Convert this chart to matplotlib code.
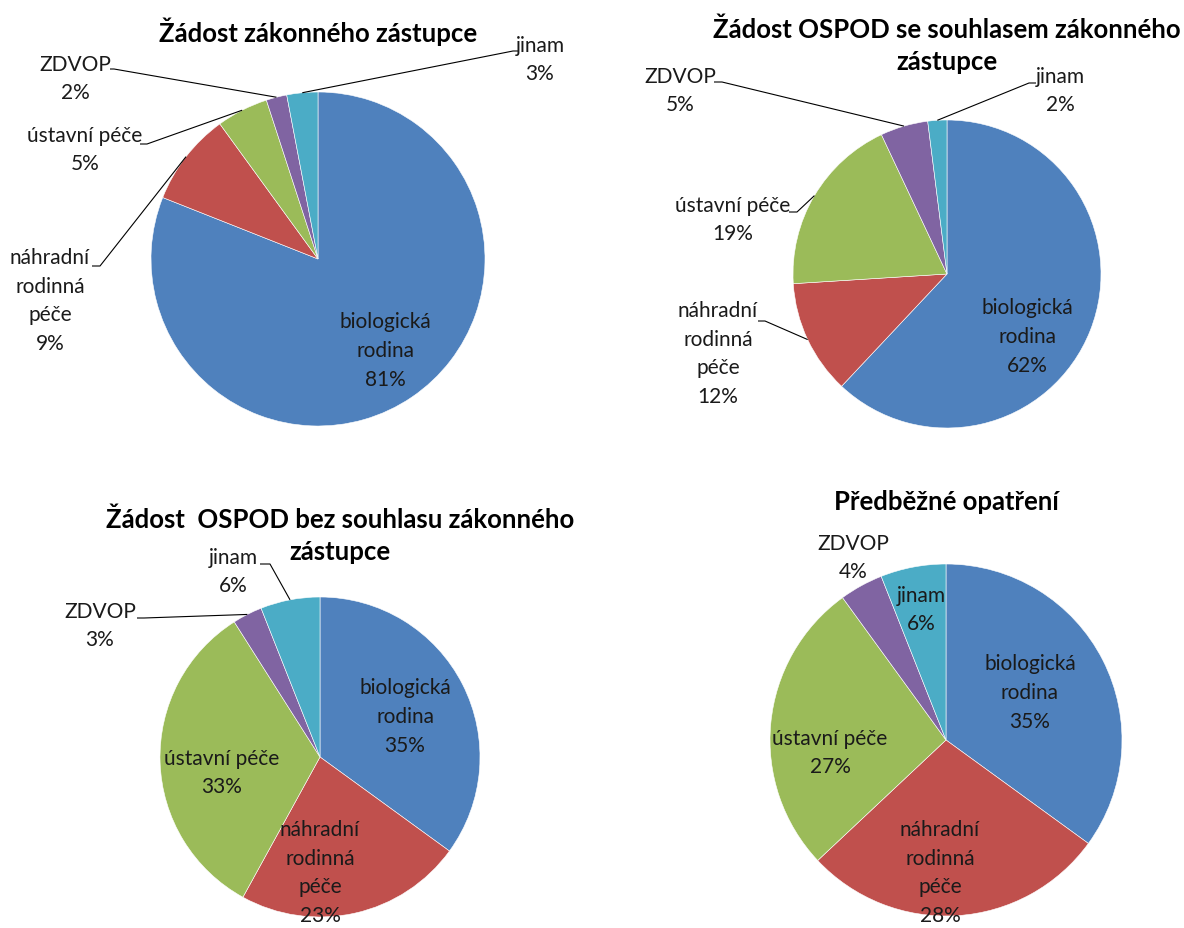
import numpy as np
import matplotlib
matplotlib.use("Agg")
import matplotlib.pyplot as plt

W, H = 1184, 929

# categories (same order in every pie, clockwise from 12 o'clock)
categories = ["biologická\nrodina", "náhradní\nrodinná\npéče", "ústavní péče",
              "ZDVOP", "jinam"]
colors = ["#4F81BD", "#C0504D", "#9BBB59", "#8064A2", "#4BACC6"]

titles = ["Žádost zákonného zástupce",
          "Žádost OSPOD se souhlasem zákonného\nzástupce",
          "Žádost  OSPOD bez souhlasu zákonného\nzástupce",
          "Předběžné opatření"]

shares_zz = [81, 9, 5, 2, 3]
shares_se = [62, 12, 19, 5, 2]
shares_bez = [35, 23, 33, 3, 6]
shares_po = [35, 28, 27, 4, 6]

# ---- layout (reference pixel coords, y measured from top) ----
# centre, radius, y of first title line
pies = [
    dict(c=(318, 260), r=167, title=(318, 32)),
    dict(c=(947, 275), r=154, title=(947, 30)),
    dict(c=(320, 758), r=160, title=(340, 520)),
    dict(c=(946, 741), r=176, title=(946, 502)),
]
# label centre per category; optional leader (anchor, elbow)
label_pos = [
    [(385, 351, None), (50, 301, [(92, 267), (100, 267)]),
     (85, 150, [(140, 145), (147, 145)]), (75, 79, [(110, 70), (114, 70)]),
     (540, 60, [(519, 52), (513, 52)])],
    [(1027, 337, None), (718, 354, [(758, 322), (765, 322)]),
     (733, 220, [(789, 213), (797, 213)]), (680, 91, [(714, 83), (722, 83)]),
     (1060, 91, [(1036, 84), (1029, 84)])],
    [(405, 717, None), (320, 873, None), (222, 773, None),
     (100, 626, [(137, 619), (144, 619)]), (233, 572, [(260, 565), (270, 565)])],
    [(1030, 693, None), (940, 873, None), (830, 753, None),
     (853, 558, None), (921, 610, None)],
]

plt.rcParams["font.family"] = ["Lato", "DejaVu Sans"]

fig = plt.figure(figsize=(W / 100, H / 100), dpi=100)
ax = fig.add_axes([0, 0, 1, 1])


def fy(y):
    return H - y


for shares, title, p, labels in zip(
        [shares_zz, shares_se, shares_bez, shares_po], titles, pies, label_pos):
    cx, cy = p["c"]
    r = p["r"]
    ax.pie(shares, colors=colors, startangle=90, counterclock=False,
           center=(cx, fy(cy)), radius=r,
           wedgeprops=dict(edgecolor="white", linewidth=0.4))
    # title lines drawn separately so each keeps its own box
    for k, line in enumerate(title.split("\n")):
        ax.text(p["title"][0], fy(p["title"][1] + 32 * k), line, ha="center",
                va="center", fontsize=18.5, fontweight="bold")

    total = float(sum(shares))
    cum = np.cumsum([0] + list(shares))
    for i, (cat, v) in enumerate(zip(categories, shares)):
        lx, ly, leader = labels[i]
        ax.text(lx, fy(ly), f"{cat}\n{v}%", ha="center", va="center",
                fontsize=15, color="#1a1a1a", linespacing=1.55)
        if leader is not None:
            mid = np.deg2rad(90 - 360 * (cum[i] + v / 2) / total)
            ex, ey = cx + r * np.cos(mid), fy(cy) + r * np.sin(mid)
            (ax_, ay_), (bx, by) = leader
            ax.plot([ax_, bx, ex], [fy(ay_), fy(by), ey], color="black",
                    lw=0.8, solid_capstyle="butt")

ax.set_xlim(0, W)
ax.set_ylim(0, H)
ax.set_aspect("equal")
ax.axis("off")
fig.savefig("out.png", dpi=100)
